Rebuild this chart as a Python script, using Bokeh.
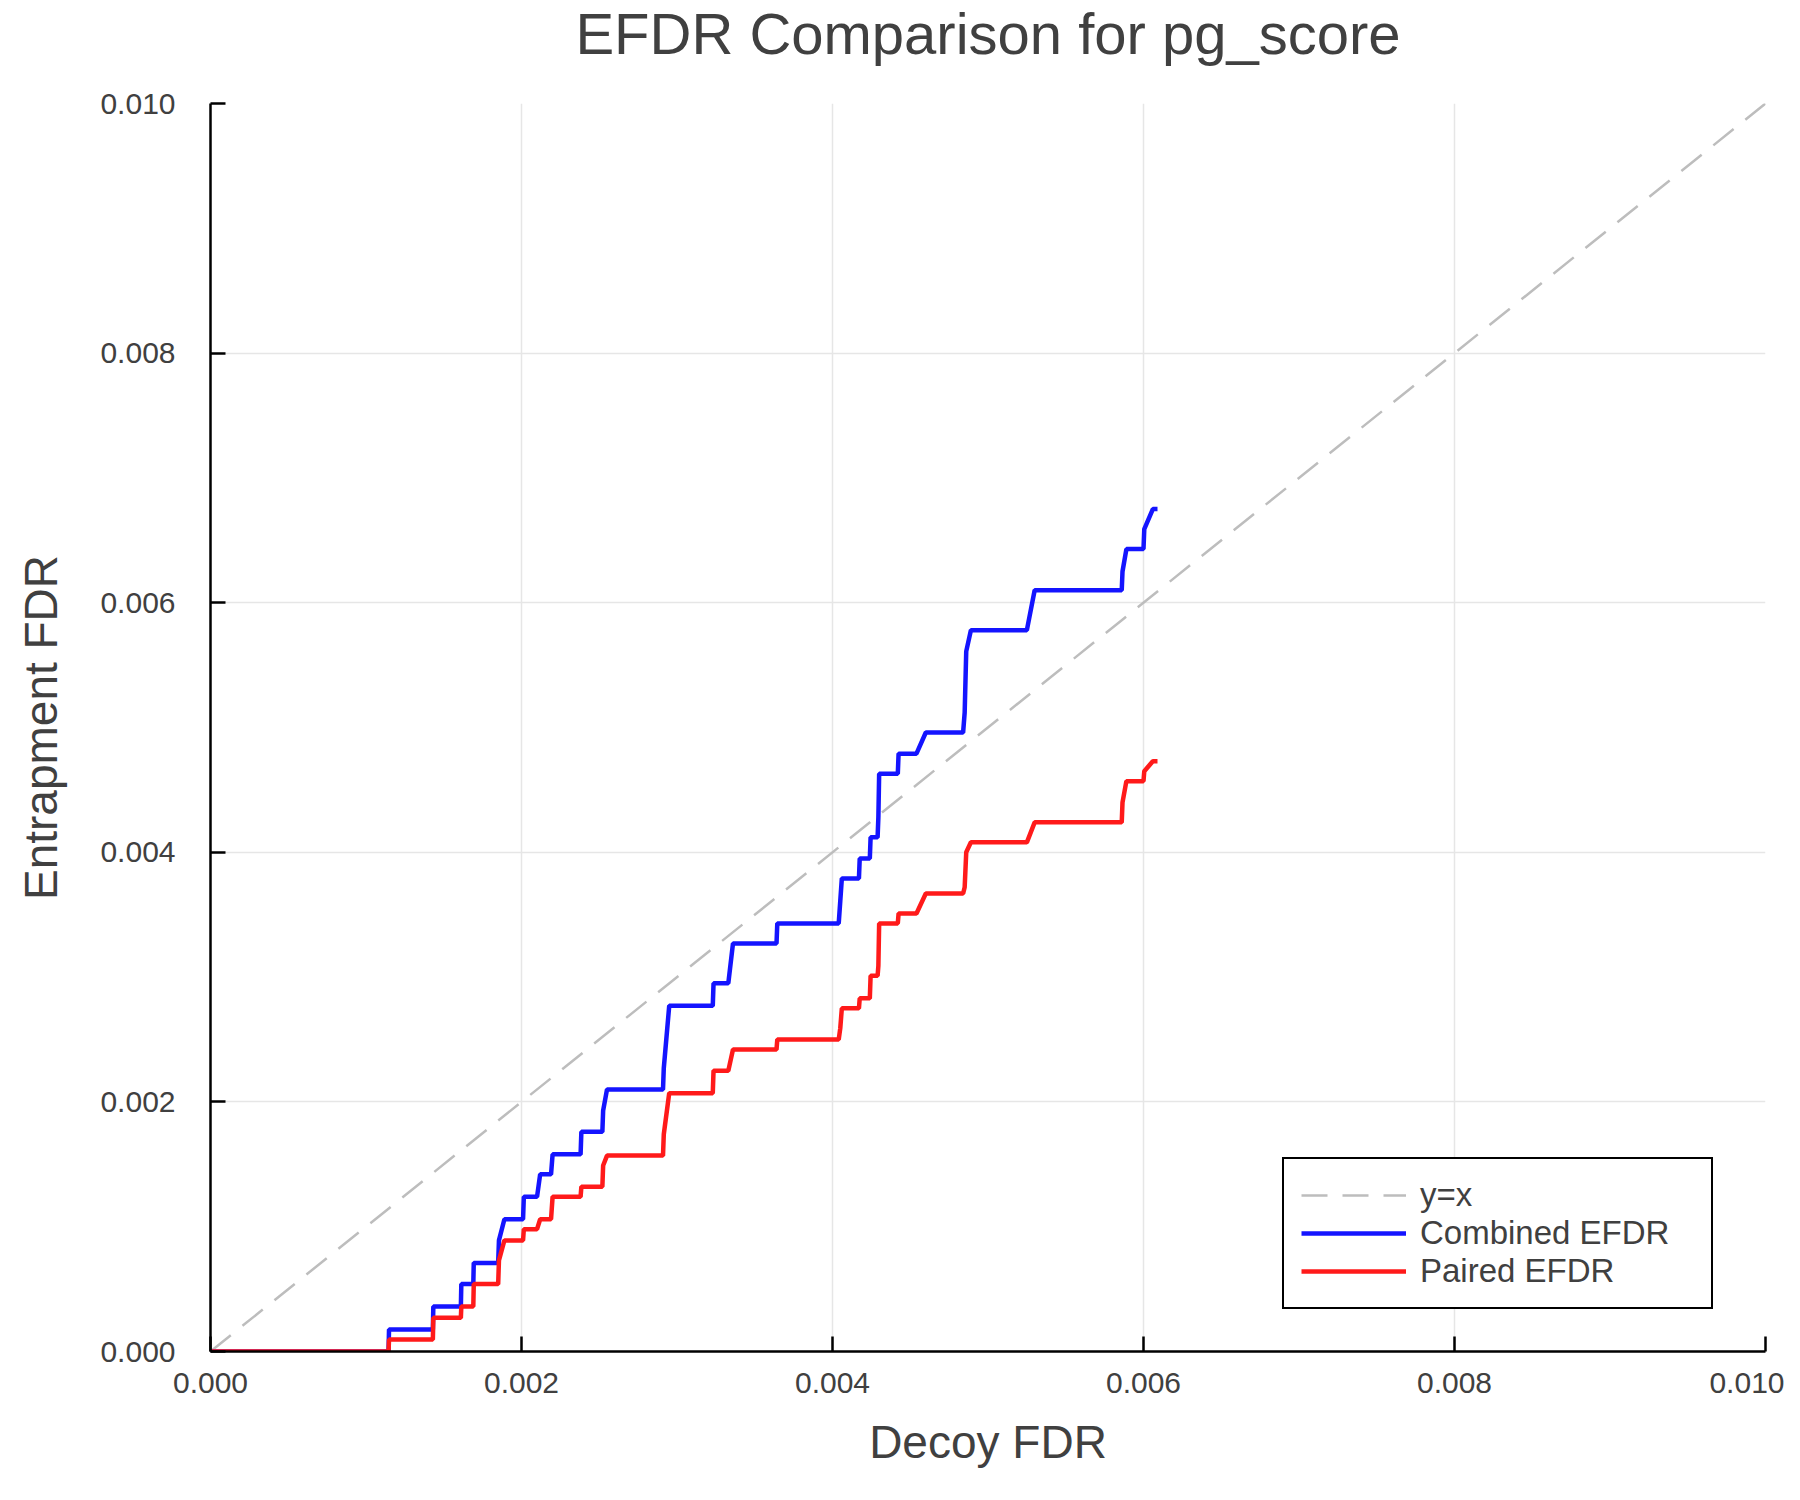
from bokeh.plotting import figure
from bokeh.models import Range1d, FixedTicker, PrintfTickFormatter, Legend, LegendItem, Title
from bokeh.embed import file_html
from bokeh.resources import INLINE

# decoy FDR (shared x of both step curves)
decoy_fdr = [0.0, 0.001145, 0.001148, 0.00143, 0.001433, 0.00161, 0.001613,
             0.00169, 0.001693, 0.00185, 0.001855, 0.00189, 0.00201, 0.002015,
             0.0021, 0.00212, 0.00219, 0.0022, 0.00238, 0.002385, 0.00252,
             0.002525, 0.00255, 0.00291, 0.002915, 0.00295, 0.00323, 0.003235,
             0.00333, 0.00336, 0.00364, 0.003645, 0.00404, 0.00405, 0.00406,
             0.00417, 0.004175, 0.00424, 0.004245, 0.00429, 0.004295, 0.0043,
             0.00442, 0.004425, 0.00454, 0.0046, 0.00484, 0.00485, 0.00486,
             0.00489, 0.00525, 0.0053, 0.00586, 0.005865, 0.00589, 0.006,
             0.006005, 0.00606, 0.00609]
combined_efdr = [0.0, 0.0, 0.000176, 0.000176, 0.00036, 0.00036, 0.00054,
                 0.00054, 0.00071, 0.00071, 0.00089, 0.00106, 0.00106, 0.00124,
                 0.00124, 0.00142, 0.00142, 0.00158, 0.00158, 0.00176, 0.00176,
                 0.00193, 0.0021, 0.0021, 0.00227, 0.00277, 0.00277, 0.00295,
                 0.00295, 0.00327, 0.00327, 0.00343, 0.00343, 0.00361, 0.00379,
                 0.00379, 0.00395, 0.00395, 0.00412, 0.00412, 0.00428, 0.00463,
                 0.00463, 0.00479, 0.00479, 0.00496, 0.00496, 0.00512, 0.00561,
                 0.00578, 0.00578, 0.0061, 0.0061, 0.00625, 0.00643, 0.00643,
                 0.00659, 0.00675, 0.00675]
paired_efdr = [0.0, 0.0, 0.000096, 0.000096, 0.00027, 0.00027, 0.00036,
               0.00036, 0.00054, 0.00054, 0.00073, 0.00089, 0.00089, 0.00098,
               0.00098, 0.00106, 0.00106, 0.00124, 0.00124, 0.00132, 0.00132,
               0.00149, 0.00157, 0.00157, 0.00174, 0.00207, 0.00207, 0.00225,
               0.00225, 0.00242, 0.00242, 0.0025, 0.0025, 0.00259, 0.00275,
               0.00275, 0.00283, 0.00283, 0.00301, 0.00301, 0.00309, 0.00343,
               0.00343, 0.00351, 0.00351, 0.00367, 0.00367, 0.00372, 0.004,
               0.00408, 0.00408, 0.00424, 0.00424, 0.0044, 0.00457, 0.00457,
               0.00465, 0.00473, 0.00473]
diag = [0.0, 0.01]
ticks = [0.0, 0.002, 0.004, 0.006, 0.008, 0.010]

FONT = "Liberation Sans"
TXT = "#404040"

p = figure(width=1784, height=1484, output_backend="svg", toolbar_location=None,
           x_range=Range1d(0, 0.01), y_range=Range1d(0, 0.01),
           title="EFDR Comparison for pg_score",
           min_border_left=210, min_border_right=19,
           min_border_top=102, min_border_bottom=133)
p.outline_line_color = None
p.background_fill_color = "white"

p.title.text_font = FONT
p.title.text_font_size = "58px"
p.title.text_font_style = "normal"
p.title.text_color = TXT
p.title.align = "center"
p.title.vertical_align = "top"
p.title.standoff = 0
# blank spacer between title and frame
p.add_layout(Title(text=" ", text_font_size="1px", standoff=33), "above")

for ax in (p.xaxis, p.yaxis):
    ax.ticker = FixedTicker(ticks=ticks)
    ax.formatter = PrintfTickFormatter(format="%.3f")
    ax.major_label_text_font = FONT
    ax.major_label_text_font_size = "30px"
    ax.major_label_text_color = TXT
    ax.axis_label_text_font = FONT
    ax.axis_label_text_font_size = "46px"
    ax.axis_label_text_font_style = "normal"
    ax.axis_label_text_color = TXT
    ax.axis_line_color = "black"
    ax.axis_line_width = 2.5
    ax.major_tick_line_color = "black"
    ax.major_tick_line_width = 2.5
    ax.major_tick_in = 15
    ax.major_tick_out = 0
    ax.minor_tick_line_color = None

p.xaxis.axis_label = "Decoy FDR"
p.yaxis.axis_label = "Entrapment FDR"
p.xaxis.major_label_standoff = 21
p.yaxis.major_label_standoff = 35
p.xaxis.axis_label_standoff = 20
p.yaxis.axis_label_standoff = 30

p.grid.ticker = FixedTicker(ticks=ticks)
p.grid.grid_line_color = "#e6e6e6"
p.grid.grid_line_width = 1.5

r_diag = p.line(diag, diag, line_color="#bdbdbd", line_width=2.5, line_dash="26 15")
r_comb = p.line(decoy_fdr, combined_efdr, line_color="#1414ff", line_width=4.5)
r_pair = p.line(decoy_fdr, paired_efdr, line_color="#ff1a1a", line_width=4.5)

legend = Legend(items=[LegendItem(label="y=x", renderers=[r_diag]),
                       LegendItem(label="Combined EFDR", renderers=[r_comb]),
                       LegendItem(label="Paired EFDR", renderers=[r_pair])],
                location=(1072, 42))
legend.label_text_font = FONT
legend.label_text_font_size = "33px"
legend.label_text_color = TXT
legend.label_height = 36
legend.glyph_height = 36
legend.glyph_width = 105
legend.label_standoff = 14
legend.label_width = 274
legend.padding = 17
legend.spacing = 0
legend.margin = 0
legend.border_line_color = "black"
legend.border_line_alpha = 1
legend.border_line_width = 2.5
legend.background_fill_alpha = 1
p.add_layout(legend, "center")

open("out.html", "w").write(file_html(p, INLINE))
